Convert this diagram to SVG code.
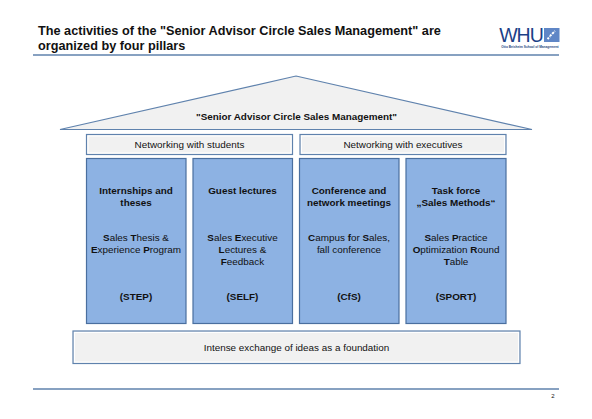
<svg xmlns="http://www.w3.org/2000/svg" width="592" height="419" viewBox="0 0 592 419">
<style>
text{font-family:"Liberation Sans",Arial,sans-serif;fill:#111;text-anchor:middle}
.t{font-size:12.7px;font-weight:bold;text-anchor:start}
.l{font-size:9.9px}
.h{font-size:9.9px;font-weight:bold}
.b{font-weight:bold}
.p{fill:#8db2e3;stroke:#4a6f9f;stroke-width:1.2}
.g{fill:#f1f1f1;stroke:#5f82ad;stroke-width:1.2}
.i{fill:none;stroke:#fff;stroke-width:1}
.r{stroke:#5f82ad;stroke-width:1.6;fill:none}
</style>
<rect width="592" height="419" fill="#fff"/>
<g id="header">
<text class="t" x="38" y="34.500">The activities of the "Senior Advisor Circle Sales Management" are</text>
<text class="t" x="38" y="50">organized by four pillars</text>
<path class="r" d="M33 55H559"/>
</g>
<g id="logo">
<text x="521" y="42" style="font-size:19.5px;fill:#1c3f87;letter-spacing:-1px">WHU</text>
<rect x="544" y="28" width="15.500" height="14" fill="#5f86c6"/>
<path d="M547.500 39l2.500-2.500M550 36l2.500-2.500M552.500 33.500l2.500-2.500" stroke="#fff" stroke-width="2" stroke-dasharray="2 1"/>
<text x="530" y="47.500" style="font-size:3.200px;font-weight:bold;fill:#2b4a7f">Otto Beisheim School of Management</text>
</g>
<g id="roof">
<polygon class="g" points="296,76 532,129.5 60,129.5"/>
<text class="h" x="296.500" y="120">"Senior Advisor Circle Sales Management"</text>
</g>
<g id="net-students">
<rect class="g" x="86.500" y="134.500" width="206" height="20"/>
<rect class="i" x="88" y="136" width="203" height="17"/>
<text class="l" x="189.500" y="147.500">Networking with students</text>
</g>
<g id="net-executives">
<rect class="g" x="300" y="134.500" width="206" height="20"/>
<rect class="i" x="301.500" y="136" width="203" height="17"/>
<text class="l" x="403" y="147.500">Networking with executives</text>
</g>
<g id="pillar-step">
<rect class="p" x="86.500" y="158.500" width="99.500" height="165"/>
<text class="h" x="136" y="194">Internships and</text>
<text class="h" x="136" y="206">theses</text>
<text class="l" x="136" y="241">
<tspan class="b">S</tspan>ales <tspan class="b">T</tspan>hesis &amp;</text>
<text class="l" x="136" y="253"><tspan class="b">E</tspan>xperience <tspan class="b">P</tspan>rogram</text>
<text class="h" x="136" y="300">(STEP)</text>
</g>
<g id="pillar-self">
<rect class="p" x="193" y="158.500" width="99.500" height="165"/>
<text class="h" x="242.500" y="194">Guest lectures</text>
<text class="l" x="242.500" y="241"><tspan class="b">S</tspan>ales <tspan class="b">E</tspan>xecutive</text>
<text class="l" x="242.500" y="253"><tspan class="b">L</tspan>ectures &amp;</text>
<text class="l" x="242.500" y="265"><tspan class="b">F</tspan>eedback</text>
<text class="h" x="242.500" y="300">(SELF)</text>
</g>
<g id="pillar-cfs">
<rect class="p" x="299.500" y="158.500" width="99.500" height="165"/>
<text class="h" x="349" y="194">Conference and</text>
<text class="h" x="349" y="206">network meetings</text>
<text class="l" x="349" y="241"><tspan class="b">C</tspan>ampus <tspan class="b">f</tspan>or <tspan class="b">S</tspan>ales,</text>
<text class="l" x="349" y="253">fall conference</text>
<text class="h" x="349" y="300">(CfS)</text>
</g>
<g id="pillar-sport">
<rect class="p" x="406" y="158.500" width="100" height="165"/>
<text class="h" x="456" y="194">Task force</text>
<text class="h" x="456" y="206">„Sales Methods“</text>
<text class="l" x="456" y="241"><tspan class="b">S</tspan>ales <tspan class="b">P</tspan>ractice</text>
<text class="l" x="456" y="253"><tspan class="b">O</tspan>ptimization <tspan class="b">R</tspan>ound</text>
<text class="l" x="456" y="265"><tspan class="b">T</tspan>able</text>
<text class="h" x="456" y="300">(SPORT)</text>
</g>
<g id="foundation">
<rect class="g" x="73" y="331" width="447" height="32.500"/>
<rect class="i" x="74.500" y="332.500" width="444" height="29.500"/>
<text class="l" x="296.500" y="350.500">Intense exchange of ideas as a foundation</text>
</g>
<g id="footer">
<path class="r" d="M33 389H559"/>
<text x="553" y="397.500" style="font-size:6px">2</text>
</g>
<g id="connectors"></g>
</svg>
